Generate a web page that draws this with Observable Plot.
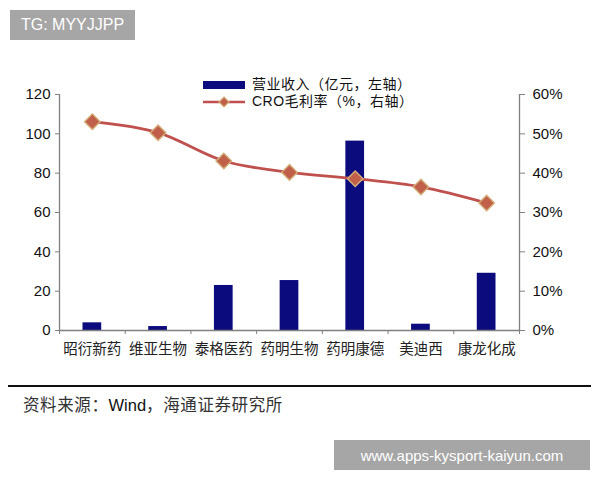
<!DOCTYPE html>
<html>
<head>
<meta charset="utf-8">
<script src="https://cdn.jsdelivr.net/npm/d3@7"></script>
<script src="https://cdn.jsdelivr.net/npm/@observablehq/plot@0.6"></script>
<style>
  html, body { margin: 0; padding: 0; background: #fff; }
  #wrap { position: relative; width: 600px; height: 480px; overflow: hidden; font-family: Arial, "Liberation Sans", "Noto Sans CJK SC", sans-serif; }
  #chart { position: absolute; left: 0; top: 0; }
  .tag { position: absolute; background: #a6a6a6; color: #fff; display: flex; align-items: center; justify-content: center; }
  #legend { position: absolute; left: 203px; top: 76px; font-family: Arial, "Noto Sans CJK SC", sans-serif; font-size: 14px; color: #111; line-height: 17px; letter-spacing: 0.5px; }
  #legend .row { display: flex; align-items: center; height: 17px; }
  #legend svg { margin-right: 7px; }
  #rule { position: absolute; left: 8px; top: 385px; width: 583px; height: 2px; background: #111; }
  #source { position: absolute; left: 23px; top: 392px; font-size: 16.5px; color: #333; font-family: "Noto Sans CJK SC", sans-serif; letter-spacing: 0.6px; }
  #source .w { font-family: Arial, "Liberation Sans", sans-serif; color: #111; letter-spacing: 0; }
</style>
</head>
<body>
<div id="wrap">
  <div id="chart"></div>
  <div class="tag" style="left:10px;top:10px;width:125px;height:30px;font-size:16px;">TG: MYYJJPP</div>
  <div id="legend">
    <div class="row"><svg width="42" height="10"><rect x="0" y="1" width="42" height="8" fill="#0b0b7e"/></svg><span>营业收入（亿元，左轴）</span></div>
    <div class="row"><svg width="42" height="12"><line x1="0" y1="6" x2="42" y2="6" stroke="#c0504d" stroke-width="2.5"/><path d="M21,1 L26,6 L21,11 L16,6 Z" fill="#c0604a" stroke="#d4ae78" stroke-width="1.2"/></svg><span>CRO毛利率（%，右轴）</span></div>
  </div>
  <div id="rule"></div>
  <div id="source">资料来源：<span class="w">Wind</span>，海通证券研究所</div>
  <div class="tag" style="left:334px;top:440px;width:256px;height:30px;font-size:15px;">www.apps-kysport-kaiyun.com</div>
</div>
<script>
const companies = ["昭衍新药", "维亚生物", "泰格医药", "药明生物", "药明康德", "美迪西", "康龙化成"];
const revenue = [3.9, 2.0, 22.9, 25.4, 96.3, 3.2, 29.1];      // 营业收入（亿元，左轴）
const croMargin = [53.1, 50.3, 43.1, 40.2, 38.6, 36.5, 32.4];  // CRO毛利率（%，右轴）
const leftTicks = [0, 20, 40, 60, 80, 100, 120];
const rightTicks = [0, 10, 20, 30, 40, 50, 60];

const data = companies.map((c, i) => ({company: c, i, revenue: revenue[i], margin: croMargin[i]}));
const scaleRatio = 120 / 60; // right axis 60% ↔ left axis 120

const chart = Plot.plot({
  width: 600,
  height: 400,
  marginLeft: 59,
  marginRight: 81,
  marginTop: 94,
  marginBottom: 70,
  style: {fontFamily: "Arial, 'Liberation Sans', sans-serif", fontSize: "15px", color: "#111", background: "transparent"},
  x: {domain: [0, companies.length], axis: null},
  y: {domain: [0, 120], axis: null},
  marks: [
    Plot.rectY(data, {x1: "i", x2: d => d.i + 1, y: "revenue", fill: "#0b0b7e", insetLeft: 23.5, insetRight: 23.5}),
    // axis lines
    Plot.ruleX([0], {stroke: "#808080", strokeWidth: 1.3}),
    Plot.ruleX([companies.length], {stroke: "#808080", strokeWidth: 1.3}),
    Plot.ruleY([0], {stroke: "#808080", strokeWidth: 1.3}),
    // left axis
    Plot.axisY(leftTicks, {anchor: "left", tickSize: 4, tickPadding: 5, stroke: "#808080", fill: "#111", fontSize: 15, label: null}),
    // right axis (percent)
    Plot.axisY(rightTicks.map(t => t * scaleRatio), {anchor: "right", tickSize: 5, tickPadding: 8, stroke: "#808080", fill: "#111", fontSize: 15, tickFormat: d => (d / scaleRatio) + "%", label: null}),
    // x axis boundary ticks
    Plot.axisX(d3.range(companies.length + 1), {anchor: "bottom", tickSize: 4, tickFormat: () => "", stroke: "#808080", label: null}),
    // x axis labels
    Plot.axisX(d3.range(companies.length).map(i => i + 0.5), {anchor: "bottom", tickSize: 0, tickPadding: 13, tickFormat: v => companies[Math.floor(v)], fontFamily: "'Noto Sans CJK SC', sans-serif", fontSize: 14.5, fill: "#222", label: null}),
    // margin line
    Plot.line(data, {x: d => d.i + 0.5, y: d => d.margin * scaleRatio, stroke: "#c0504d", strokeWidth: 2.8, curve: "catmull-rom"}),
    Plot.dot(data, {x: d => d.i + 0.5, y: d => d.margin * scaleRatio, symbol: "diamond2", r: 7, fill: "#c0604a", stroke: "#d4ae78", strokeWidth: 1.4})
  ]
});
document.getElementById("chart").appendChild(chart);
</script>
</body>
</html>
